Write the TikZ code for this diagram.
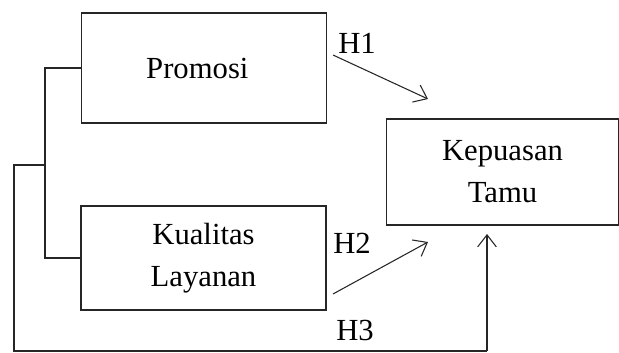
\documentclass[tikz,border=0pt]{standalone}
\usepackage{fontspec}
\setmainfont{Liberation Serif}
\usetikzlibrary{arrows.meta}
\begin{document}
\begin{tikzpicture}[x=0.75pt,y=-0.75pt,
  line width=0.8pt, draw=black!85,
  box/.style={draw=black!85, line width=0.9pt, align=center, inner sep=0pt,
    font=\fontsize{23}{31.5}\selectfont},
  lbl/.style={font=\fontsize{23}{26}\selectfont, inner sep=0pt},
  arr/.style={-{Straight Barb[length=9pt,width=14pt]}}]
\useasboundingbox (0,0) rectangle (619,353);
\node[box, minimum width=245*0.75pt, minimum height=110*0.75pt] (pro) at (204,68) {Promosi\hspace*{10pt}};
\node[box, minimum width=245*0.75pt, minimum height=104*0.75pt] (kual) at (203.5,258) {Kualitas\\Layanan};
\node[box, minimum width=232*0.75pt, minimum height=106*0.75pt] (kep) at (502.5,172) {Kepuasan\\Tamu};
\coordinate (bt) at (45,68);
\coordinate (bb) at (45,258);
\coordinate (bm) at (45,165);
\coordinate (l1) at (14,165);
\coordinate (l2) at (14,351);
\coordinate (l3) at (487,351);
\coordinate (t3) at (487,234);
\coordinate (s1) at (333,55);
\coordinate (t1) at (428,99);
\coordinate (s2) at (333,294);
\coordinate (t2) at (428,242);
\draw (pro.west) -- (bt) -- (bb) -- (kual.west);
\draw (bm) -- (l1) -- (l2) -- (l3);
\draw[arr] (l3) -- (t3);
\draw[arr] (s1) -- (t1);
\draw[arr] (s2) -- (t2);
\node[lbl] (h1) at (357,43) {H1};
\node[lbl] (h2) at (352,243) {H2};
\node[lbl] (h3) at (355,330) {H3};
\end{tikzpicture}
\end{document}
